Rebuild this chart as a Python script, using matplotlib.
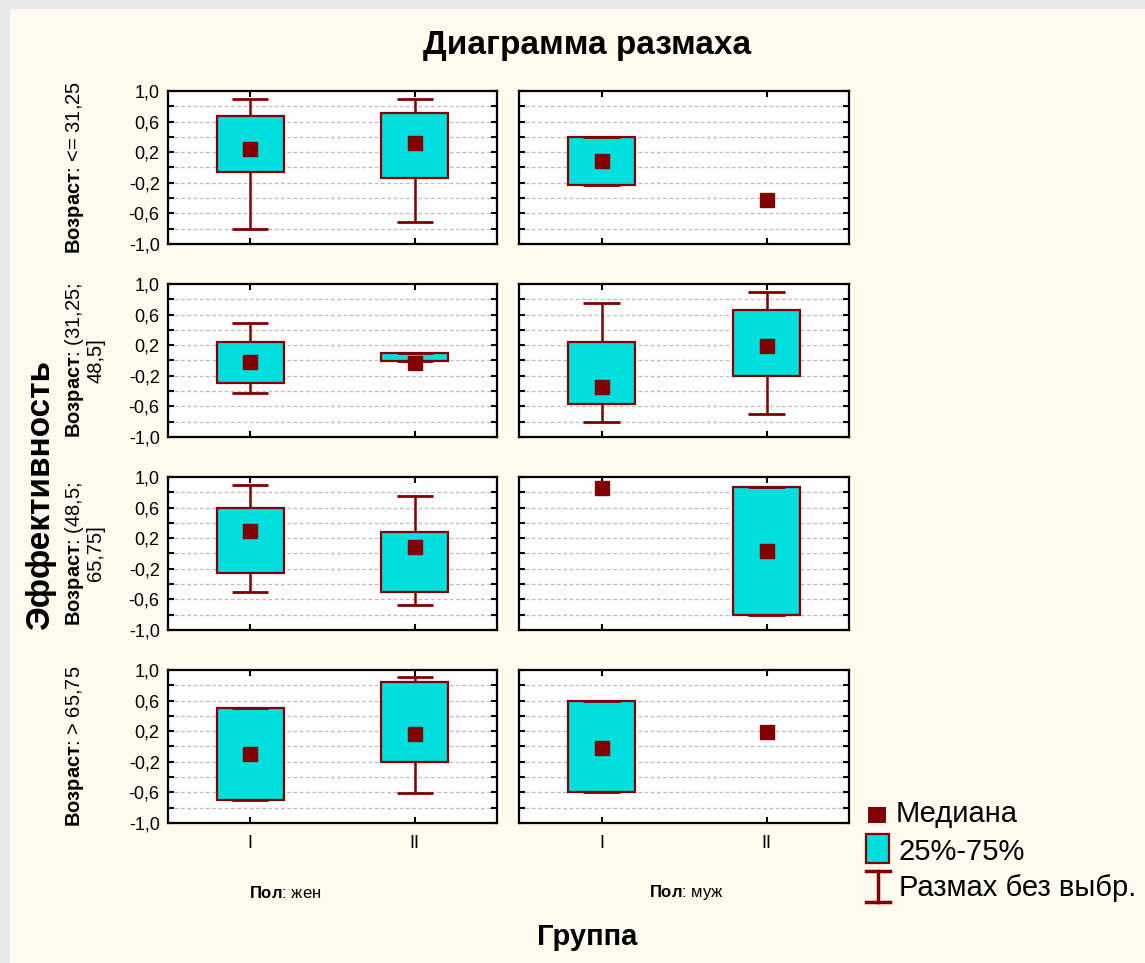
import numpy as np
import matplotlib
matplotlib.use("Agg")
import matplotlib.pyplot as plt
from matplotlib.patches import Rectangle
from matplotlib.lines import Line2D

plt.rcParams['font.family'] = ['Liberation Sans', 'DejaVu Sans']
plt.rcParams['mathtext.fontset'] = 'custom'
plt.rcParams['mathtext.rm'] = 'Liberation Sans'
plt.rcParams['mathtext.bf'] = 'Liberation Sans:bold'
plt.rcParams['mathtext.it'] = 'Liberation Sans:italic'

# ---------------- data ----------------
title = "Диаграмма размаха"
y_label = "Эффективность"
x_label = "Группа"
groups = ["I", "II"]
sex_labels = ["жен", "муж"]
age_lines = [["<= 31,25"], ["(31,25;", "48,5]"], ["(48,5;", "65,75]"], ["> 65,75"]]
y_ticks = [-1.0, -0.8, -0.6, -0.4, -0.2, 0.0, 0.2, 0.4, 0.6, 0.8, 1.0]
y_tick_labels = ["-1,0", "", "-0,6", "", "-0,2", "", "0,2", "", "0,6", "", "1,0"]
legend_labels = ["Медиана", "25%-75%", "Размах без выбр."]

nan = np.nan
# rows = age groups; within each row: [жен I, жен II, муж I, муж II]
medians = [
    [0.24, 0.32, 0.085, -0.425],
    [-0.02, -0.03, -0.35, 0.19],
    [0.29, 0.085, 0.855, 0.035],
    [-0.10, 0.165, -0.02, 0.19],
]
q1 = [
    [-0.06, -0.14, -0.23, nan],
    [-0.295, -0.01, -0.57, -0.20],
    [-0.255, -0.50, nan, -0.805],
    [-0.70, -0.20, -0.595, nan],
]
q3 = [
    [0.675, 0.71, 0.40, nan],
    [0.24, 0.10, 0.24, 0.66],
    [0.595, 0.28, nan, 0.87],
    [0.505, 0.845, 0.595, nan],
]
w_low = [
    [-0.80, -0.71, -0.23, nan],
    [-0.425, -0.01, -0.805, -0.70],
    [-0.505, -0.675, nan, -0.805],
    [-0.70, -0.61, -0.595, nan],
]
w_high = [
    [0.895, 0.895, 0.40, nan],
    [0.49, 0.10, 0.75, 0.895],
    [0.895, 0.75, nan, 0.87],
    [0.505, 0.905, 0.595, nan],
]

# ---------------- style ----------------
W, H = 1145, 963
DARK = '#800000'
CYAN = '#00dede'
BG_OUT = '#e8e8e8'
BG_IN = '#fffaee'

fig = plt.figure(figsize=(W / 100, H / 100), dpi=100)
fig.patch.set_facecolor(BG_OUT)

ov = fig.add_axes([0, 0, 1, 1])
ov.set_xlim(0, W)
ov.set_ylim(H, 0)
ov.axis('off')
ov.add_patch(Rectangle((10, 9), W - 10, H - 9, facecolor=BG_IN, edgecolor='none'))

col_left = [168, 519]
col_w = [329, 330]
row_top = [91, 284, 477, 670]
row_h = 153

xpos = np.arange(1, len(groups) + 1)

for r in range(4):
    for c in range(2):
        ax = fig.add_axes([col_left[c] / W, 1 - (row_top[r] + row_h) / H,
                           col_w[c] / W, row_h / H])
        ax.set_facecolor('white')
        ax.set_xlim(0.5, 2.5)
        ax.set_ylim(-1.0, 1.0)
        for s in ax.spines.values():
            s.set_linewidth(1.6)
            s.set_color('black')
        ax.set_yticks(y_ticks)
        ax.set_xticks(xpos)
        ax.tick_params(direction='in', length=4, width=1.5, top=True, right=True,
                       labelsize=13, pad=6)
        ax.tick_params(axis='x', pad=9)
        if c == 0:
            ax.set_yticklabels(y_tick_labels)
        else:
            ax.set_yticklabels([])
        if r == 3:
            ax.set_xticklabels(groups)
        else:
            ax.set_xticklabels([])
        for yv in y_ticks[1:-1]:
            ax.axhline(yv, color='#bdbdbd', lw=0.9, ls=(0, (3, 2)), zorder=1)

        for g in range(2):
            k = c * 2 + g
            x = xpos[g]
            lo, b1, b3, hi, md = w_low[r][k], q1[r][k], q3[r][k], w_high[r][k], medians[r][k]
            if not np.isnan(b1):
                ax.vlines(x, lo, b1, color=DARK, lw=1.8, zorder=2)
                ax.vlines(x, b3, hi, color=DARK, lw=1.8, zorder=2)
                ax.bar(x, b3 - b1, bottom=b1, width=0.41, color=CYAN,
                       edgecolor=DARK, linewidth=1.6, zorder=3)
                ax.hlines([lo, hi], x - 0.11, x + 0.11, color=DARK, lw=2.0, zorder=4)
            ax.plot(x, md, 's', ms=10, color=DARK, mec=DARK, zorder=5)

# ---------------- texts ----------------
ov.text(587, 54, title, ha='center', va='baseline', fontsize=24, fontweight='bold')
ov.text(41, 495, y_label, ha='center', va='center', rotation=90, fontsize=24,
        fontweight='bold')
ov.text(587, 945, x_label, ha='center', va='baseline', fontsize=21, fontweight='bold')

for r in range(4):
    yc = row_top[r] + row_h / 2
    lines = age_lines[r]
    ov.text(75, yc, r"$\mathbf{Возраст}$: " + lines[0], ha='center', va='center',
            rotation=90, fontsize=14.5)
    if len(lines) > 1:
        ov.text(96, yc, lines[1], ha='center', va='center', rotation=90, fontsize=14.5)

sex_x = [285, 686]
for c in range(2):
    ov.text(sex_x[c], 893, r"$\mathbf{Пол}$: " + sex_labels[c], ha='center',
            va='center', fontsize=12)

# ---------------- legend ----------------
ov.add_patch(Rectangle((868, 807), 18, 16, facecolor=DARK, edgecolor='none'))
ov.add_patch(Rectangle((866, 834), 23, 29, facecolor=CYAN, edgecolor=DARK, lw=1.6))
ov.add_line(Line2D([866, 890], [871, 871], color=DARK, lw=2.5))
ov.add_line(Line2D([878, 878], [871, 902], color=DARK, lw=2.5))
ov.add_line(Line2D([866, 890], [902, 902], color=DARK, lw=2.5))
ov.text(896, 814, legend_labels[0], ha='left', va='center', fontsize=21)
ov.text(899, 852, legend_labels[1], ha='left', va='center', fontsize=21)
ov.text(899, 888, legend_labels[2], ha='left', va='center', fontsize=21)

fig.savefig('out.png', dpi=100, facecolor=fig.get_facecolor())
